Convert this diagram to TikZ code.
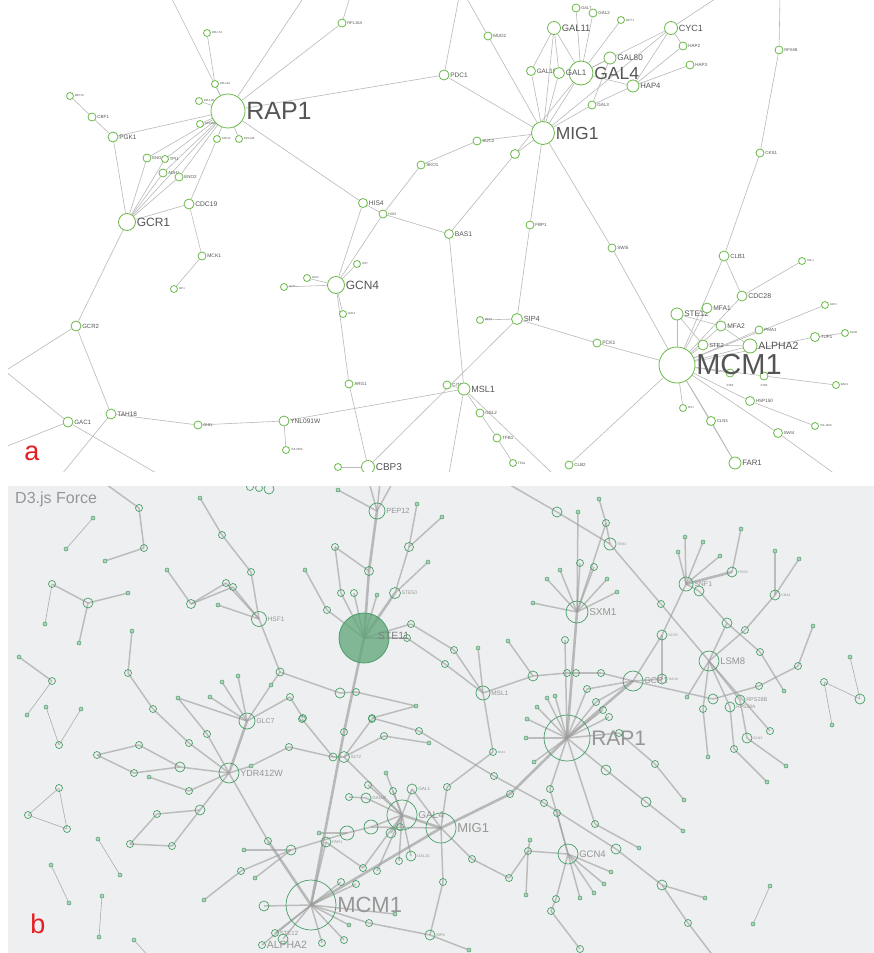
\documentclass[tikz,border=0pt]{standalone}
\usepackage{fontspec}
\setmainfont{Liberation Sans}
\pgfdeclarelayer{bg}
\pgfdeclarelayer{edges}
\pgfsetlayers{bg,edges,main}
\definecolor{agreen}{RGB}{104,186,70}
\definecolor{aline}{RGB}{185,185,185}
\definecolor{atext}{RGB}{85,85,85}
\definecolor{bgreen}{RGB}{72,158,104}
\definecolor{bfillc}{RGB}{95,165,120}
\definecolor{bline}{RGB}{155,155,155}
\definecolor{btext}{RGB}{150,150,150}
\definecolor{bback}{RGB}{238,239,240}
\definecolor{redlab}{RGB}{230,30,35}
\definecolor{dtitle}{RGB}{150,150,150}
\tikzset{
 ae/.style={draw=aline, line width=0.6pt},
 an/.style={circle, draw=agreen, fill=white, line width=0.8pt, inner sep=0pt, minimum size=#1},
 al/.style={text=atext, inner sep=0.7pt, font=\fontsize{#1}{#1}\selectfont},
 be/.style={draw=bline, line width=1.5pt, draw opacity=0.6},
 bt/.style={draw=bline, line width=2.6pt, draw opacity=0.65},
 bf/.style={draw=bline, line width=0.6pt, draw opacity=0.8},
 bn/.style={circle, draw=bgreen, line width=0.7pt, inner sep=0pt, minimum size=#1},
 bs/.style={bn=7pt},
 bm/.style={bn=10pt},
 bd/.style={circle, draw=bgreen, fill=bgreen!45, line width=0.5pt, inner sep=0pt, minimum size=4pt},
 bl/.style={text=btext, inner sep=0.7pt, font=\fontsize{#1}{#1}\selectfont},
}
\newcommand\mkA[5]{\node[an=#2pt,label={[al=#5]right:#4}] (#1) at (#3) {};}
\newcommand\mkAn[3]{\node[an=#2pt] (#1) at (#3) {};}
\newcommand\mkB[3]{\node[#2] (#1) at (#3) {};}
\newcommand\mkBL[5]{\node[#2,label={[bl=#5]right:#4}] (#1) at (#3) {};}
\begin{document}
\begin{tikzpicture}[x=1pt,y=-1pt]
\useasboundingbox (0,0) rectangle (874,953);
\begin{pgfonlayer}{bg}
\fill[white] (0,0) rectangle (874,953);
\fill[bback] (8,486) rectangle (874,953);
\end{pgfonlayer}
% ---------------- panel a ----------------
\coordinate (ta1) at (171,-3);
\coordinate (ta2) at (304,-3);
\coordinate (ta3) at (350,-3);
\coordinate (ta4) at (459,-3);
\coordinate (ta5) at (466,-3);
\coordinate (ta6) at (718,-3);
\coordinate (ta7) at (780,-3);
\coordinate (tb1) at (449,474);
\coordinate (tb2) at (553,474);
\coordinate (tb3) at (62,474);
\coordinate (tb4) at (158,474);
\coordinate (tb5) at (835,474);
\coordinate (tl1) at (5,371);
\coordinate (tl2) at (5,447);
\begin{scope}
\clip (8,0) rectangle (874,471);
\mkA{aRPL17A}{7}{207,33}{RPL17A}{2.8}
\mkA{aRPL24A}{7}{215,84}{RPL24A}{2.8}
\mkA{aRPL11B}{7}{199,101}{RPL11B}{2.8}
\mkA{aRPS26A}{7}{200,124}{RPS26A}{2.8}
\mkA{aHSP42}{7}{217,139}{HSP42}{2.8}
\mkA{aRPS14B}{7}{239,139}{RPS14B}{2.8}
\mkA{aMET16}{7}{70,96}{MET16}{2.8}
\mkA{aCBF1}{8}{92,117}{CBF1}{4.5}
\mkA{aPGK1}{10}{113,137}{PGK1}{6.4}
\mkA{aENO1}{8}{147,158}{ENO1}{4.2}
\mkA{aTPI1}{7}{165,159}{TPI1}{4.2}
\mkA{aADH1}{8}{163,173}{ADH1}{4.2}
\mkA{aENO2}{8}{179,177}{ENO2}{4.5}
\mkA{aCDC19}{10}{189,204}{CDC19}{6.7}
\mkA{aGCR1}{17}{127,222}{GCR1}{12}
\mkA{aRAP1}{34}{228,111}{RAP1}{25}
\mkA{aMCK1}{8}{202,256}{MCK1}{5}
\mkA{aSIP1}{7}{174,289}{SIP1}{2.8}
\mkA{aGCR2}{10}{76,326}{GCR2}{6}
\mkA{aTAH18}{10}{111,414}{TAH18}{6.5}
\mkA{aGAC1}{10}{68,422}{GAC1}{6.2}
\mkA{aGIS1}{8}{198,425}{GIS1}{4}
\mkA{aYNL091W}{10}{284,421}{YNL091W}{6.6}
\mkA{aYNL068C}{7}{286,450}{YNL068C}{2.8}
\mkA{aGLT1}{7}{284,287}{GLT1}{2.8}
\mkA{aRPL16A}{8}{342,23}{RPL16A}{4}
\mkA{aMUD2}{8}{488,36}{MUD2}{4.5}
\mkA{aPDC1}{10}{444,75}{PDC1}{6.5}
\mkA{aGAL11}{13}{554,28}{GAL11}{9.4}
\mkA{aGAL10}{9}{531,71}{GAL10}{6.3}
\mkA{aGAL4}{24}{581,73}{GAL4}{17.5}
\mkA{aGAL1}{11}{559,73}{GAL1}{8}
\mkA{aMIG1}{23}{543,133}{MIG1}{17.5}
\mkA{aSUC2}{8}{477,141}{SUC2}{4.5}
\mkAn{ann1}{9}{515,154}
\mkA{aSKO1}{8}{421,165}{SKO1}{4.5}
\mkA{aHIS4}{9}{363,203}{HIS4}{6.7}
\mkA{aHIS3}{8}{383,214}{HIS3}{3.5}
\mkA{aBAS1}{9}{449,234}{BAS1}{6.8}
\mkA{aFBP1}{8}{530,225}{FBP1}{4.5}
\mkA{aGAL7}{8}{576,8}{GAL7}{4}
\mkA{aGAL2}{8}{593,13}{GAL2}{4.5}
\mkA{aGCY1}{7}{621,20}{GCY1}{3}
\mkA{aCYC1}{13}{671,28}{CYC1}{9}
\mkA{aHAP2}{8}{683,46}{HAP2}{4.5}
\mkA{aHAP3}{8}{690,65}{HAP3}{4.5}
\mkA{aGAL80}{12}{610,58}{GAL80}{8.2}
\mkA{aHAP4}{12}{633,86}{HAP4}{7.7}
\mkA{aGAL3}{8}{592,105}{GAL3}{4.5}
\mkA{aRPS8B}{8}{779,50}{RPS8B}{4}
\mkA{aCKS1}{8}{760,153}{CKS1}{4.5}
\mkA{aHIS7}{7}{357,264}{HIS7}{2.8}
\mkA{aGCN4}{17}{336,285}{GCN4}{12}
\mkA{aLEU3}{7}{307,278}{LEU3}{2.8}
\mkA{aADE4}{7}{343,314}{ADE4}{2.8}
\mkA{aARG1}{8}{349,384}{ARG1}{4.5}
\mkA{aCIT1}{8}{447,385}{CIT1}{4.5}
\mkA{aMSL1}{12}{464,389}{MSL1}{9}
\mkA{aSIP4}{11}{517,319}{SIP4}{7.4}
\mkA{aMET3}{7}{480,320}{MET3}{2.8}
\mkA{aGSL2}{8}{480,413}{GSL2}{4.5}
\mkA{aTFB1}{8}{497,438}{TFB1}{4.5}
\mkA{aTFA1}{7}{513,463}{TFA1}{3.2}
\mkA{aCBP3}{13}{368,467}{CBP3}{10}
\mkAn{ann2}{7}{338,467}
\mkA{aCLB2}{8}{569,465}{CLB2}{4.5}
\mkA{aPCK1}{8}{597,343}{PCK1}{5}
\mkA{aSWI5}{8}{612,248}{SWI5}{4.6}
\mkA{aCLB1}{10}{724,256}{CLB1}{6}
\mkA{aHSL1}{7}{802,261}{HSL1}{2.8}
\mkA{aCDC28}{10}{742,296}{CDC28}{7}
\mkA{aSTE12}{12}{677,314}{STE12}{8}
\mkA{aMFA1}{10}{707,308}{MFA1}{6.7}
\mkA{aMFA2}{10}{721,326}{MFA2}{6.7}
\mkA{aPMA1}{8}{759,330}{PMA1}{4.5}
\mkA{aASP1}{7}{825,305}{ASP1}{2.8}
\mkA{aTUP1}{9}{815,337}{TUP1}{4.5}
\mkA{aSSN6}{7}{845,333}{SSN6}{2.8}
\mkA{aSTE2}{10}{703,345}{STE2}{5.8}
\mkA{aALPHA2}{14}{750,346}{ALPHA2}{10.5}
\node[an=8pt,label={[al=2.8,label distance=6pt]below:STE3}] (aSTE3) at (730,373) {};
\node[an=8pt,label={[al=2.8,label distance=3pt]below:STE6}] (aSTE6) at (764,376) {};
\mkA{aBAR1}{7}{836,385}{BAR1}{2.8}
\mkA{aHSP150}{9}{750,401}{HSP150}{4.6}
\mkA{aPIS1}{7}{683,408}{PIS1}{2.8}
\mkA{aCLN3}{9}{711,421}{CLN3}{4.3}
\mkA{aYNL160C}{7}{815,426}{YNL160C}{2.8}
\mkA{aSWI4}{9}{778,433}{SWI4}{4.3}
\mkA{aFAR1}{12}{735,463}{FAR1}{7.8}
\mkA{aMCM1}{36}{677,365}{MCM1}{29}
\end{scope}
\node[text=redlab, font=\fontsize{27}{27}\selectfont, inner sep=0pt] (lblA) at (32,453) {a};
% ---------------- panel b ----------------
\coordinate (p0) at (103,482);
\coordinate (p27) at (150,958);
\coordinate (t1) at (369,482);
\coordinate (t2) at (380,482);
\coordinate (t3) at (393,482);
\coordinate (x0) at (505,482);
\coordinate (c0) at (714,957);
\begin{scope}
\clip (8,486) rectangle (874,953);
\node[anchor=west, text=dtitle, font=\fontsize{16}{16}\selectfont, inner sep=0pt] (title) at (15,499) {D3.js Force};
\mkB{p1}{bs}{139,508}
\mkB{p2}{bs}{144,548}
\mkB{p3}{bd}{105,561}
\mkB{p4}{bd}{93,518}
\mkB{p5}{bd}{66,549}
\mkB{p6}{bs}{52,584}
\mkB{p7}{bm}{88,603}
\mkB{p8}{bd}{128,593}
\mkB{p9}{bd}{45,624}
\mkB{p10}{bd}{79,643}
\mkB{p11}{bd}{19,657}
\mkB{p12}{bs}{52,681}
\mkB{p13}{bd}{27,715}
\mkB{p14}{bd}{46,707}
\mkB{p15}{bd}{81,709}
\mkB{p16}{bs}{59,745}
\mkB{p17}{bs}{59,788}
\mkB{p18}{bs}{28,815}
\mkB{p19}{bs}{67,829}
\mkB{p20}{bd}{98,839}
\mkB{p21}{bd}{120,875}
\mkB{p22}{bd}{51,865}
\mkB{p23}{bd}{69,903}
\mkB{p24}{bd}{102,896}
\mkB{p25}{bd}{99,937}
\mkB{p26}{bd}{134,940}
\mkB{q1}{bs}{250,487}
\mkB{q2}{bs}{259,488}
\mkB{q3}{bm}{269,489}
% HSF1
\mkB{h1}{bd}{200,498}
\mkB{h2}{bs}{222,535}
\mkB{h3}{bs}{251,572}
\mkBL{hHSF1}{bn=15pt}{259,619}{HSF1}{6.5}
\mkB{h4}{bd}{167,570}
\mkB{h5}{bn=9pt}{191,604}
\mkB{h6}{bs}{226,583}
\mkB{h7}{bs}{233,587}
\mkB{h8}{bd}{218,605}
\mkB{h9}{bn=8pt}{280,672}
% GLC7 / YDR412W
\mkB{g1}{bd}{132,631}
\mkB{g2}{bs}{128,673}
\mkB{g3}{bs}{153,709}
\mkB{g4}{bs}{189,743}
\mkBL{gYDR}{bn=20pt}{229,773}{YDR412W}{9}
\mkB{g5}{bd}{222,682}
\mkB{g6}{bd}{238,676}
\mkB{g7}{bd}{210,697}
\mkB{g8}{bd}{178,698}
\mkB{g9}{bd}{271,685}
\mkB{g10}{bs}{290,697}
\mkBL{gGLC7}{bn=16pt}{247,721}{GLC7}{7}
\mkB{g11}{bs}{207,734}
\mkB{g12}{bs}{139,745}
\mkB{g13}{bs}{97,755}
\mkB{g14}{bs}{134,773}
\mkB{g15}{bm}{180,767}
\mkB{g16}{bd}{149,777}
\mkB{g17}{bs}{189,791}
\mkB{g18}{bs}{289,747}
\mkB{g19}{bd}{251,766}
\mkB{g20}{bm}{200,810}
\mkB{g21}{bs}{157,814}
\mkB{g22}{bs}{130,844}
\mkB{g23}{bs}{172,846}
\mkB{g24}{bs}{268,841}
\mkB{g25}{bm}{291,850}
\mkB{g26}{bd}{244,850}
\mkB{g27}{bs}{241,871}
\mkB{g28}{bd}{255,878}
\mkB{g29}{bd}{204,900}
\mkB{g30}{bm}{264,906}
\mkBL{g31}{bs}{275,933}{STE12}{6}
\mkB{g32}{bm}{283,939}
\mkBL{g33}{bs}{262,945}{ALPHA2}{10.5}
% STE11
\mkB{s1}{bd}{338,490}
\mkBL{bPEP12}{bn=16pt}{377,511}{PEP12}{7.5}
\mkB{s2}{bd}{417,504}
\mkB{s3}{bd}{442,517}
\mkB{s4}{bn=9pt}{409,547}
\mkB{s5}{bs}{335,547}
\mkB{s6}{bn=9pt}{369,571}
\mkB{s7}{bd}{428,562}
\mkBL{bSTE50}{bn=11pt}{395,593}{STE50}{5}
\mkB{s8}{bd}{305,570}
\mkB{s9}{bs}{327,610}
\mkB{s10}{bs}{341,593}
\mkB{s11}{bs}{354,593}
\mkB{s12}{bd}{377,595}
\node[circle, draw=bgreen, fill=bfillc, fill opacity=0.75, line width=0.8pt, inner sep=0pt, minimum size=50pt] (bSTE11) at (364,638) {};
\node[bl=10.5, anchor=west, text=btext!85!black] (lSTE11) at (377,636) {STE11};
\mkB{s13}{bs}{411,624}
\mkB{s14}{bs}{407,638}
\mkB{s15}{bs}{454,650}
\mkB{s16}{bs}{445,664}
\mkBL{bMSL1}{bn=14pt}{483,693}{MSL1}{6.5}
\mkB{s17}{bd}{478,648}
\mkB{s18}{bd}{508,641}
\mkB{s19}{bm}{533,676}
\mkB{s20}{bs}{567,673}
\mkB{s21}{bs}{576,673}
\mkB{s22}{bm}{340,693}
\mkB{s23}{bs}{356,692}
\mkB{s24}{bd}{416,706}
\mkB{s25}{bs}{372,718}
\mkB{s26}{bs}{303,718}
% SXM1 / TEM1
\mkB{x1}{bm}{557,512}
\mkB{x3}{bd}{578,512}
\mkB{x4}{bs}{580,563}
\mkB{x5}{bd}{547,579}
\mkB{x6}{bd}{560,570}
\mkB{x7}{bd}{533,603}
\mkBL{bSXM1}{bn=22pt}{577,612}{SXM1}{10}
\mkB{x8}{bs}{565,640}
\mkB{x9}{bd}{599,499}
\mkB{x10}{bs}{606,523}
\mkBL{bTEM1}{bn=12pt}{610,544}{TEM1}{3.5}
\mkB{x11}{bs}{594,567}
\mkB{x12}{bd}{607,579}
\mkB{x13}{bd}{617,592}
% SNF1 / LSM8
\mkBL{bSNF1}{bn=14pt}{686,584}{SNF1}{7}
\mkB{n2}{bd}{685,537}
\mkB{n3}{bd}{703,542}
\mkB{n4}{bd}{678,552}
\mkB{n5}{bd}{720,556}
\mkB{n6}{bd}{741,529}
\mkBL{bHOG1}{bm}{732,572}{HOG1}{3.5}
\mkB{n7}{bm}{699,591}
\mkB{n8}{bs}{661,604}
\mkBL{bGCR2}{bm}{662,635}{GCR2}{3.5}
\mkBL{bTAH18}{bm}{662,679}{TAH18}{3.2}
\mkBL{bGCR1}{bn=20pt}{633,681}{GCR1}{8.5}
\mkB{gc1}{bs}{601,673}
\mkBL{bLSM8}{bn=20pt}{709,661}{LSM8}{9.5}
\mkB{n9}{bm}{727,623}
\mkB{n10}{bs}{745,630}
\mkB{n11}{bs}{760,652}
\mkB{n12}{bd}{784,691}
\mkBL{bCNA1}{bm}{775,595}{CNA1}{3.5}
\mkB{n13}{bd}{775,551}
\mkB{n14}{bd}{799,559}
\mkB{n15}{bd}{813,626}
\mkB{n16}{bs}{798,666}
\mkB{n17}{bs}{759,686}
\mkB{n18}{bd}{687,697}
\mkB{n19}{bm}{713,699}
\mkBL{bRPS28B}{bm}{740,700}{RPS28B}{5.5}
\mkBL{bRPS28A}{bm}{730,707}{RPS28A}{5}
\mkB{n20}{bs}{703,709}
\mkB{n21}{bs}{824,682}
\mkB{n22}{bm}{860,699}
\mkB{n23}{bd}{850,657}
\mkB{n24}{bd}{832,725}
\mkB{e2}{bd}{708,757}
\mkBL{bGLN3}{bm}{747,738}{GLN3}{3.5}
\mkB{e3}{bs}{734,749}
\mkB{e5}{bs}{770,731}
\mkB{e6}{bd}{786,766}
\mkB{e7}{bd}{767,782}
\mkB{e9}{bd}{770,886}
\mkB{e10}{bd}{753,924}
% RAP1
\mkBL{bRAP1}{bn=46pt}{567,738}{RAP1}{21}
\mkB{r1}{bs}{587,689}
\mkB{r2}{bs}{596,702}
\mkB{r3}{bs}{603,710}
\mkB{r4}{bs}{609,717}
\mkB{r5}{bs}{619,733}
\mkB{r6}{bs}{655,764}
\mkB{r7}{bd}{684,800}
\mkB{r8}{bm}{606,770}
\mkB{r9}{bm}{646,802}
\mkB{r10}{bd}{683,831}
\mkB{r11}{bd}{547,698}
\mkB{r12}{bd}{555,696}
\mkB{r13}{bd}{537,707}
\mkB{r14}{bd}{527,719}
\mkB{r15}{bd}{526,738}
\mkB{r16}{bd}{534,762}
% GCN4
\mkBL{bGCN4}{bn=20pt}{568,854}{GCN4}{9.5}
\mkB{c1}{bs}{595,824}
\mkB{c2}{bd}{639,848}
\mkB{c3}{bm}{616,849}
\mkB{c4}{bm}{662,885}
\mkB{c5}{bd}{705,898}
\mkB{c6}{bs}{688,923}
\mkB{c7}{bd}{611,872}
\mkB{c8}{bd}{604,884}
\mkB{c9}{bd}{594,893}
\mkB{c10}{bd}{580,898}
\mkB{c11}{bs}{550,789}
\mkB{c12}{bs}{544,803}
\mkB{c13}{bs}{557,813}
\mkB{c14}{bd}{530,840}
\mkB{c15}{bs}{528,851}
\mkB{c16}{bd}{526,895}
\mkB{c17}{bs}{556,899}
\mkB{c18}{bs}{551,911}
\mkB{c19}{bs}{580,949}
\mkB{k1}{bs}{419,731}
\mkB{k2}{bs}{494,776}
\mkB{k3}{bs}{447,787}
\mkB{k4}{bs}{510,794}
\mkBL{bBAS1}{bs}{493,752}{BAS1}{3}
% SLT2 / GAL4 / MIG1 / MCM1
\mkB{m1}{bs}{344,732}
\mkB{l1}{bs}{302,719}
\mkB{l2}{bs}{372,719}
\mkB{l4}{bn=8pt}{333,757}
\mkBL{bSLT2}{bn=11pt}{344,757}{SLT2}{4.5}
\mkB{l5}{bs}{384,736}
\mkB{l6}{bd}{429,743}
\mkB{m2}{bd}{386,773}
\mkB{m3}{bs}{368,785}
\mkB{m4}{bs}{393,791}
\mkBL{bGAL80}{bm}{366,798}{GAL80}{4.5}
\mkB{m5}{bs}{349,797}
\mkB{m6}{bn=14pt}{347,833}
\mkB{m7}{bn=14pt}{371,827}
\mkB{m8}{bm}{391,833}
\mkB{m9}{bs}{400,827}
\mkB{m10}{bd}{319,833}
\mkBL{bFAR1}{bm}{326,842}{FAR1}{4}
\mkB{m12}{bs}{399,861}
\mkB{m13}{bs}{363,868}
\mkB{m14}{bs}{377,871}
\mkB{m24}{bs}{472,859}
\mkB{m25}{bs}{509,878}
\mkB{m26}{bs}{443,882}
\mkB{m15}{bs}{341,882}
\mkB{m16}{bs}{356,884}
\mkB{m17}{bd}{395,914}
\mkB{m18}{bs}{369,923}
\mkB{m19}{bd}{349,925}
\mkBL{bSIP4}{bm}{430,935}{SIP4}{4}
\mkB{m20}{bd}{469,950}
\mkB{m21}{bs}{322,943}
\mkB{m22}{bs}{344,940}
\mkBL{bGAL4}{bn=30pt}{402,815}{GAL4}{10}
\mkBL{bGAL1}{bm}{412,789}{GAL1}{4.7}
\mkBL{bGAL10}{bm}{411,856}{GAL10}{4}
\mkBL{bMIG1}{bn=30pt}{441,828}{MIG1}{13}
\mkBL{bMCM1}{bn=50pt}{311,905}{MCM1}{22}
\end{scope}
\node[text=redlab, font=\fontsize{27}{27}\selectfont, inner sep=0pt] (lblB) at (38,924) {b};
% ---------------- edges ----------------
\begin{pgfonlayer}{edges}
\begin{scope}
\clip (8,0) rectangle (874,471);
\foreach \u/\v in {ta1/aRAP1, ta2/aRAP1, aRPL16A/aRAP1, ta3/aRPL16A, aRAP1/aPDC1, ta4/aPDC1, aPDC1/aMIG1, ta5/aMUD2, aMUD2/aMIG1,
 aRAP1/aHIS4, aHIS4/aGCN4, aHIS4/aHIS3, aHIS3/aBAS1, aSKO1/aHIS3, aHIS3/aGCN4, aSKO1/aSUC2, aSUC2/aMIG1,
 aBAS1/ann1, ann1/aMIG1, ann1/aGAL4, aMIG1/aGAL4, aMIG1/aGAL1, aMIG1/aGAL10, aMIG1/aGAL11, aMIG1/aGAL3, aMIG1/aCYC1, aMIG1/aFBP1, aMIG1/aSWI5,
 aGAL11/aGAL10, aGAL11/aGAL1, aGAL11/aGAL4, aGAL4/aGAL80, aGAL4/aGAL2, aGAL4/aGAL7, aGAL4/aGCY1, aGAL4/aCYC1, aGAL4/aHAP4, aGAL80/aGAL3,
 aCYC1/aHAP4, aCYC1/aHAP2, aHAP2/aHAP4, aHAP3/aHAP4, aHAP4/aGAL3, ta6/aCYC1,
 ta7/aRPS8B, aRPS8B/aCKS1, aCKS1/aCLB1,
 aFBP1/aSIP4, aSIP4/aMET3, aSIP4/aPCK1, aSIP4/aCBP3, aPCK1/aMCM1,
 aBAS1/aMSL1, aMSL1/aYNL091W, aMSL1/aCIT1, aMSL1/aGSL2, aGSL2/aTFB1, aTFB1/aTFA1, aMSL1/tb1, aMSL1/tb2,
 aGCN4/aLEU3, aGCN4/aGLT1, aGCN4/aHIS7, aGCN4/aADE4, aGCN4/aARG1, aARG1/aCBP3, aCBP3/ann2,
 aYNL091W/aYNL068C, aYNL091W/aGIS1, aGIS1/aTAH18, aTAH18/aGCR2, aTAH18/tb3, aGCR2/aGCR1, aGCR2/tl1, tl1/aGAC1, aGAC1/tb4, aGAC1/tl2,
 aGCR1/aPGK1, aPGK1/aCBF1, aCBF1/aMET16, aPGK1/aRAP1, aGCR1/aENO1, aGCR1/aTPI1, aGCR1/aADH1, aGCR1/aENO2, aGCR1/aRAP1, aGCR1/aCDC19,
 aENO1/aRAP1, aTPI1/aRAP1, aADH1/aRAP1, aENO2/aRAP1, aRPS26A/aRAP1, aCDC19/aHSP42, aHSP42/aRAP1, aCDC19/aMCK1, aMCK1/aSIP1,
 aRPL17A/aRPL24A, aRPL24A/aRAP1, aRPL11B/aRAP1, aRPS14B/aRAP1,
 aMCM1/aSWI5, aMCM1/aCLB2, aMCM1/aCLB1, aCLB1/aCDC28, aCDC28/aHSL1, aCDC28/aMCM1, aMCM1/aSTE12, aMCM1/aMFA1, aMCM1/aMFA2, aMCM1/aSTE2, aMCM1/aALPHA2,
 aSTE12/aMFA2, aSTE12/aSTE2, aALPHA2/aSTE2, aALPHA2/aMFA2, aMCM1/aPMA1, aMCM1/aASP1, aMCM1/aTUP1, aTUP1/aSSN6, aMCM1/aSTE3, aMCM1/aSTE6, aSTE6/aBAR1,
 aMCM1/aHSP150, aHSP150/aYNL160C, aMCM1/aSWI4, aSWI4/tb5, aMCM1/aPIS1, aMCM1/aCLN3, aCLN3/aFAR1, aMCM1/aFAR1}
 \draw[ae] (\u) -- (\v);
\end{scope}
\begin{scope}
\clip (8,486) rectangle (874,953);
\foreach \u/\v in {p0/p1, p1/p2, p2/p3, p6/p7, p7/p8, p7/p10, p11/p12,
 h1/h2, h2/h3, h3/hHSF1, h4/h5, h5/h6, h5/h7, h6/hHSF1, h7/hHSF1, h8/hHSF1, hHSF1/h9,
 g1/g2, g2/g3, g3/g4, g4/gYDR, g5/gGLC7, g6/gGLC7, g7/gGLC7, g8/gGLC7, h9/g9, g9/gGLC7, g10/gGLC7, g8/g11, g11/gYDR,
 g13/g12, g12/g15, g13/g14, g14/g15, g15/gYDR, g16/g17, g17/gYDR, g18/g19, g19/gYDR, gYDR/g20, g20/g21, g21/g22, g22/g23, g23/g20, gYDR/g24,
 g26/g25, g27/g25, g29/g27, g28/g25, g30/bMCM1, g31/bMCM1, g32/bMCM1, g33/bMCM1,
 s1/bPEP12, t1/bPEP12, t2/bPEP12, t3/bPEP12, s2/s4, s4/bSTE50, s3/s4, s7/bSTE50, s5/s6, s5/s10, s10/bSTE11, s11/bSTE11, s12/bSTE11, s8/s9, s9/bSTE11,
 bSTE11/s13, s13/s15, s15/bMSL1, bSTE11/s14, s14/s16, s16/bMSL1, s17/bMSL1, s18/s19, bMSL1/s19, s19/s20, s20/s21, s21/gc1, gc1/bGCR1,
 h9/s22, s22/s23, s23/s24, s25/s24, s26/g10,
 x0/x1, x1/bTEM1, x9/x10, x10/bTEM1, x10/bSXM1, x3/bSXM1, x4/bSXM1, x5/bSXM1, x6/bSXM1, x7/bSXM1, x11/bSXM1, x12/bSXM1, x13/bSXM1, x8/bRAP1,
 bTEM1/n8, n8/bLSM8, bLSM8/e5,
 bSNF1/n2, bSNF1/n3, bSNF1/n4, bSNF1/n5, bHOG1/n6, bSNF1/n7, bSNF1/bGCR2, bGCR2/bGCR1, bGCR2/bTAH18, bTAH18/bGCR1,
 n7/n9, n9/n11, n11/n12, n9/bLSM8, bCNA1/n13, bCNA1/n14, bCNA1/n10, n10/bLSM8, n15/n16, n16/n17, n17/n19, bGCR1/n19,
 bLSM8/n18, bLSM8/bRPS28B, bLSM8/bRPS28A, bLSM8/n20,
 r1/bRAP1, r2/bRAP1, r3/bRAP1, r4/bRAP1, r5/bRAP1, bGCR1/r1, bGCR1/r2, r5/r6, r6/r7, bRAP1/r8, r8/r9, r9/r10,
 r11/bRAP1, r12/bRAP1, r13/bRAP1, r14/bRAP1, r15/bRAP1, r16/bRAP1,
 bGCN4/c7, bGCN4/c8, bGCN4/c9, bGCN4/c10, c11/bRAP1, c11/bGCN4, c13/bGCN4, c15/bGCN4, c14/c15, c16/c15, bGCN4/c17, c17/c18, c18/c19, c1/c2, bRAP1/c1,
 s25/k1, k1/k2, k2/c12, c12/c3, c3/c4, c4/c6, c6/c0, c4/c5, bMSL1/bBAS1, bBAS1/k3, k3/bMIG1,
 l1/l4, g18/l4, l4/bSLT2, l2/bSLT2, l5/bSLT2, l5/l6, bSLT2/bGAL4,
 m2/bGAL4, m3/bGAL4, m4/bGAL4, bGAL1/bGAL4, bGAL1/bMIG1, bGAL80/bGAL4, bGAL80/m5, m8/bGAL4, m9/bGAL4, bGAL10/bGAL4, m12/bGAL4, m13/bGAL4, m14/bGAL4,
 m7/bGAL4, m7/bMIG1, m6/m7, g25/m6, m10/m6, bFAR1/bMCM1, bFAR1/m13,
 bMIG1/m24, m24/m25, m25/c15, bMIG1/m26, m26/bSIP4, bMCM1/m18, m18/bSIP4, bSIP4/m20, bMCM1/m17, bMCM1/m15, bMCM1/m16, bMCM1/m19, bMCM1/m21, bMCM1/m22,
 n20/e2, bRPS28B/bGLN3, bGLN3/e6, bRPS28A/e3, e3/e7}
 \draw[be] (\u.center) -- (\v.center);
\foreach \u/\v in {bPEP12/s6, s6/bSTE11, bSTE50/bSTE11, bSTE11/m1, m1/bMCM1, gGLC7/gYDR, g24/bMCM1, bSXM1/bRAP1, bGCR1/bRAP1, bSNF1/bHOG1,
 bGAL4/bMIG1, bMIG1/bMCM1, bMIG1/k4, k4/bRAP1}
 \draw[bt] (\u.center) -- (\v.center);
\foreach \u/\v in {p4/p5, p6/p9, p12/p13, p14/p16, p15/p16, p17/p18, p18/p19, p17/p19, p20/p21, p22/p23, p24/p25, p26/p27, n21/n22, n23/n22, n21/n24, e9/e10}
 \draw[bf] (\u.center) -- (\v.center);
\end{scope}
\end{pgfonlayer}
\end{tikzpicture}
\end{document}
